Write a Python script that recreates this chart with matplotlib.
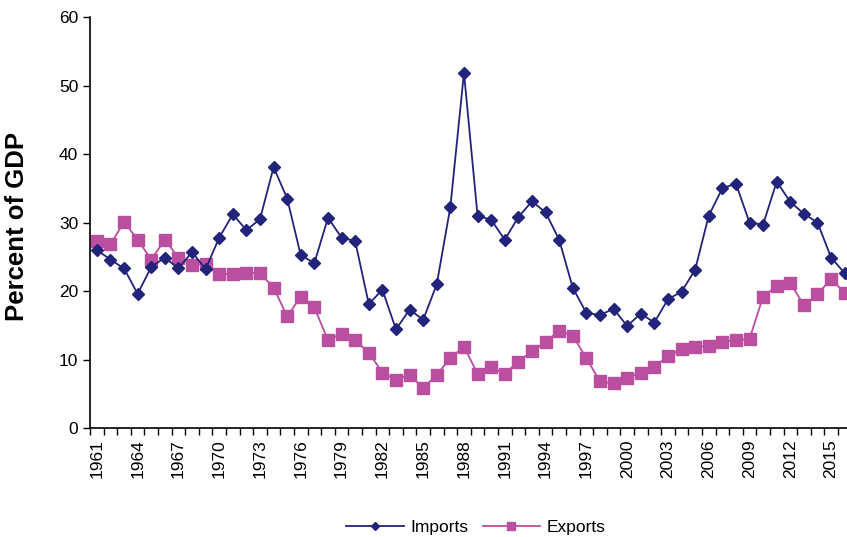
import numpy as np
import matplotlib.pyplot as plt

plt.rcParams['font.family'] = ['Liberation Sans', 'DejaVu Sans']

years = list(range(1961, 2017))
imports = [26.0, 24.6, 23.3, 19.6, 23.5, 24.9, 23.3, 25.7, 23.2, 27.8,
           31.2, 28.9, 30.5, 38.1, 33.5, 25.2, 24.1, 30.7, 27.8, 27.3,
           18.1, 20.2, 14.4, 17.3, 15.8, 21.0, 32.3, 51.9, 31.0, 30.4,
           27.5, 30.8, 33.1, 31.5, 27.5, 20.5, 16.8, 16.5, 17.4, 14.9,
           16.7, 15.4, 18.8, 19.9, 23.1, 31.0, 35.0, 35.7, 30.0, 29.7,
           36.0, 33.0, 31.3, 30.0, 24.9, 22.6]
exports = [27.3, 26.8, 30.1, 27.5, 24.6, 27.5, 24.9, 23.8, 24.0, 22.5,
           22.5, 22.7, 22.6, 20.5, 16.3, 19.2, 17.6, 12.8, 13.8, 12.8,
           11.0, 8.1, 7.0, 7.8, 5.8, 7.8, 10.2, 11.9, 7.9, 8.9,
           7.9, 9.7, 11.2, 12.6, 14.2, 13.5, 10.2, 6.8, 6.5, 7.3,
           8.1, 8.9, 10.5, 11.5, 11.8, 12.0, 12.6, 12.8, 13.0, 19.2,
           20.7, 21.2, 17.9, 19.5, 21.8, 19.7]

fig = plt.figure(figsize=(8.47, 5.37), dpi=100)
ax = fig.add_axes([0.1063, 0.203, 0.899, 0.765])

x = np.arange(len(years))
ax.plot(x, imports, color='#22237A', marker='D', markersize=6, lw=1.3,
        label='Imports', zorder=3)
ax.plot(x, exports, color='#BA4E9F', marker='s', markersize=8, lw=1.3,
        label='Exports', zorder=2)

ax.set_xlim(-0.5, len(years) - 0.5)
ax.set_ylim(0, 60)
ax.set_yticks(range(0, 61, 10))
ax.tick_params(axis='y', labelsize=12.5, length=5, width=1, direction='out')

ax.set_xticks(x[::3])
ax.set_xticklabels([str(y) for y in years[::3]], rotation=90, fontsize=12.5)
ax.set_xticks(np.arange(-0.5, len(years)), minor=True)
ax.tick_params(axis='x', which='major', length=0, pad=8)
ax.tick_params(axis='x', which='minor', length=5, width=1, direction='out')

for s in ['top', 'right']:
    ax.spines[s].set_visible(False)
ax.spines['left'].set_linewidth(1.2)
ax.spines['bottom'].set_linewidth(1.2)

ax.set_ylabel('Percent of GDP', fontsize=18.5, fontweight='bold')
ax.yaxis.set_label_coords(-0.08, 0.49)

fig.legend(loc='center', bbox_to_anchor=(0.562, 0.017), ncol=2,
           frameon=False, fontsize=12.5, handlelength=3.3, columnspacing=0.8,
           handletextpad=0.4, markerscale=0.75)

fig.savefig('out.png', dpi=100)
